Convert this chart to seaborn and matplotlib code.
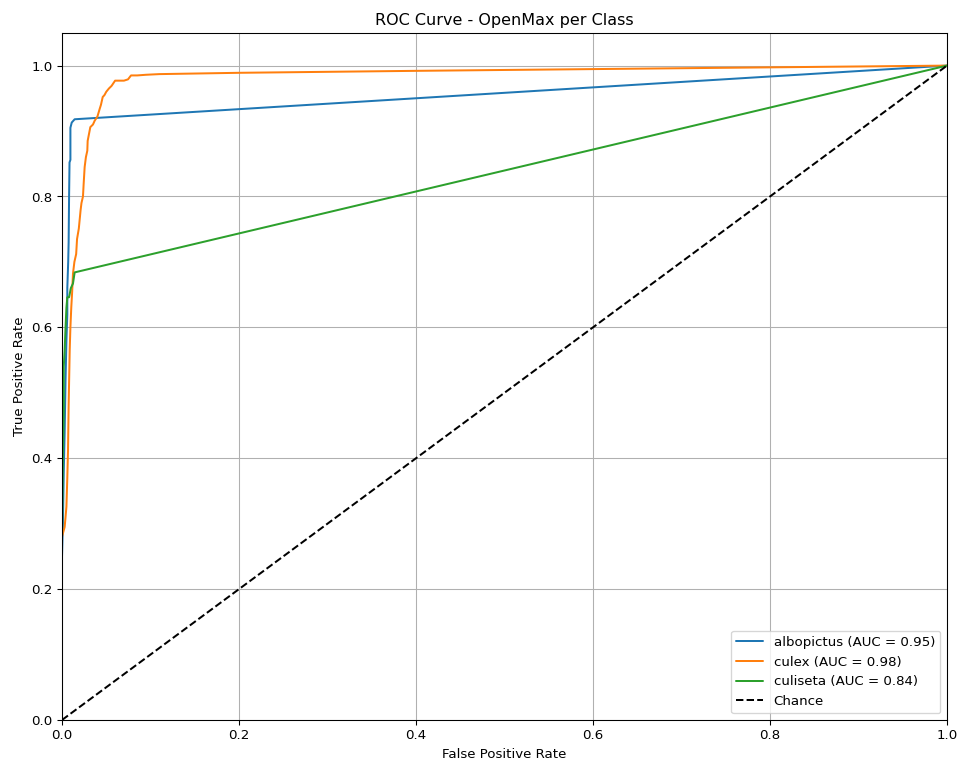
import matplotlib
matplotlib.use("Agg")
import matplotlib.pyplot as plt
import seaborn as sns
import pandas as pd

classes = ["albopictus", "culex", "culiseta"]
auc_values = [0.95, 0.98, 0.84]

fpr_albopictus = [0, 0, 0.001, 0.002, 0.003, 0.004, 0.005, 0.006, 0.006, 0.007, 0.0075,
                  0.008, 0.0085, 0.0095, 0.0095, 0.011, 0.0143, 1.0]
tpr_albopictus = [0, 0.25, 0.30, 0.38, 0.44, 0.52, 0.58, 0.62, 0.66, 0.70, 0.73,
                  0.80, 0.852, 0.856, 0.905, 0.913, 0.918, 1.0]

fpr_culex = [0, 0, 0.003, 0.004, 0.005, 0.006, 0.0068, 0.0075, 0.0087, 0.0095, 0.0105,
             0.0115, 0.0124, 0.014, 0.016, 0.017, 0.019, 0.021, 0.022, 0.0237,
             0.0245, 0.0256, 0.027, 0.0286, 0.029, 0.032, 0.035, 0.037, 0.040,
             0.0426, 0.044, 0.046, 0.048, 0.050, 0.053, 0.056, 0.058, 0.060, 0.070,
             0.0746, 0.078, 0.085, 0.095, 0.11, 0.2, 0.4, 1.0]
tpr_culex = [0, 0.28, 0.295, 0.31, 0.326, 0.37, 0.412, 0.48, 0.565, 0.60, 0.631,
             0.655, 0.682, 0.700, 0.712, 0.735, 0.751, 0.779, 0.79, 0.80,
             0.82, 0.845, 0.86, 0.87, 0.885, 0.906, 0.91, 0.916, 0.922,
             0.934, 0.94, 0.952, 0.955, 0.96, 0.965, 0.969, 0.973, 0.977, 0.977,
             0.979, 0.985, 0.985, 0.986, 0.987, 0.989, 0.992, 1.0]

fpr_culiseta = [0, 0, 0.001, 0.002, 0.002, 0.003, 0.004, 0.005, 0.006, 0.008, 0.010,
                0.0124, 0.0143, 1.0]
tpr_culiseta = [0, 0.28, 0.40, 0.48, 0.54, 0.565, 0.60, 0.63, 0.646, 0.646, 0.66,
                0.667, 0.684, 1.0]

chance = [0.0, 1.0]

fprs = [fpr_albopictus, fpr_culex, fpr_culiseta]
tprs = [tpr_albopictus, tpr_culex, tpr_culiseta]
colors = ["#1f77b4", "#ff7f0e", "#2ca02c"]

sns.set_style("white")
plt.rcParams['font.family'] = ['DejaVu Sans']
plt.rcParams['text.color'] = 'black'
plt.rcParams['axes.labelcolor'] = 'black'
plt.rcParams['xtick.color'] = 'black'
plt.rcParams['ytick.color'] = 'black'

fig = plt.figure(figsize=(10, 7.97), dpi=96)
ax = fig.add_axes([62/960, 1 - 720/765, (947-62)/960, (720-33)/765])

for name, auc, f, t, c in zip(classes, auc_values, fprs, tprs, colors):
    df = pd.DataFrame({"fpr": f, "tpr": t})
    sns.lineplot(data=df, x="fpr", y="tpr", sort=False, estimator=None,
                 color=c, linewidth=1.5, ax=ax,
                 label=f"{name} (AUC = {auc:.2f})")

dfc = pd.DataFrame({"fpr": chance, "tpr": chance})
sns.lineplot(data=dfc, x="fpr", y="tpr", sort=False, estimator=None,
             color="black", linestyle="--", linewidth=1.5, ax=ax, label="Chance")

ax.set_xlim(0, 1)
ax.set_ylim(0, 1.05)
ax.set_xlabel("False Positive Rate", fontsize=10, color="black")
ax.set_ylabel("True Positive Rate", fontsize=10, color="black")
ax.set_title("ROC Curve - OpenMax per Class", fontsize=12, color="black")
ax.grid(True, color="#b0b0b0", linewidth=0.8)
ax.tick_params(axis="both", labelsize=10, length=3.5, width=0.8, direction="out",
               bottom=True, left=True, colors="black")
for s in ax.spines.values():
    s.set_color("black")
    s.set_linewidth(0.8)
leg = ax.legend(loc="lower right", fontsize=10, frameon=True)
for t in leg.get_texts():
    t.set_color("black")

fig.savefig("out.png", dpi=96)
